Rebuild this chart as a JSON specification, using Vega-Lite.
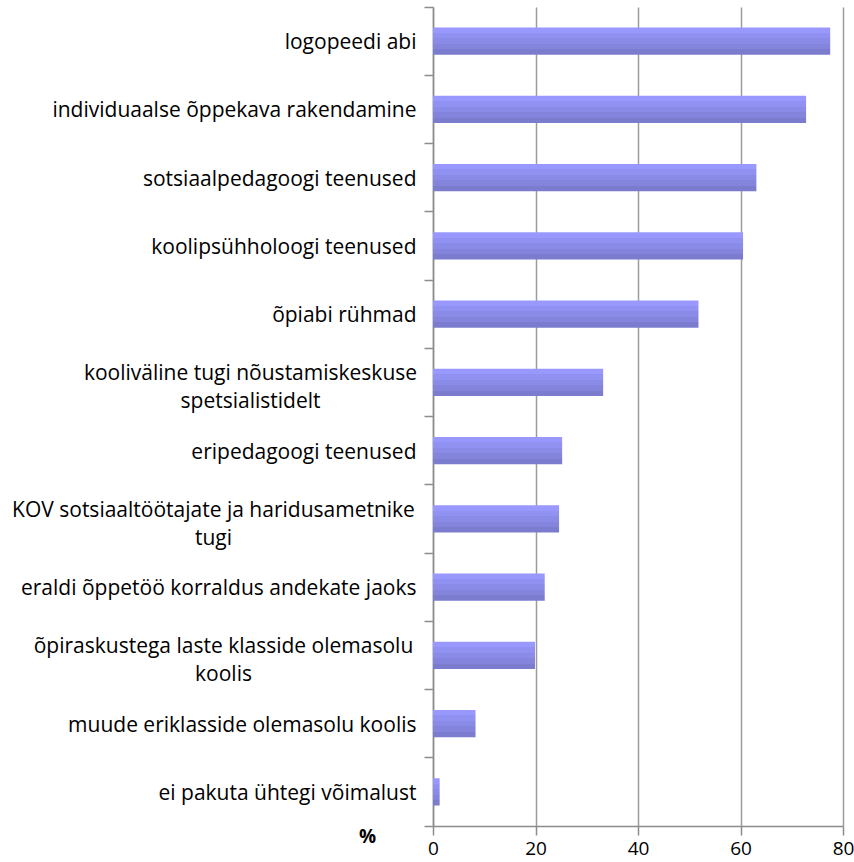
{
  "$schema": "https://vega.github.io/schema/vega-lite/v6.json",
  "autosize": "none",
  "width": 410,
  "height": 819,
  "padding": {"left": 433, "top": 7, "right": 11, "bottom": 36},
  "background": "white",
  "config": {"view": {"stroke": null}, "font": "Open Sans"},
  "data": {
    "values": [
      {"category": "logopeedi abi", "value": 77.5},
      {"category": "individuaalse õppekava rakendamine", "value": 72.8},
      {"category": "sotsiaalpedagoogi teenused", "value": 63.1},
      {"category": "koolipsühholoogi teenused", "value": 60.5},
      {"category": "õpiabi rühmad", "value": 51.8},
      {"category": "kooliväline tugi nõustamiskeskuse spetsialistidelt", "value": 33.2},
      {"category": "eripedagoogi teenused", "value": 25.2},
      {"category": "KOV sotsiaaltöötajate ja haridusametnike tugi", "value": 24.6},
      {"category": "eraldi õppetöö korraldus andekate jaoks", "value": 21.8},
      {"category": "õpiraskustega laste klasside olemasolu koolis", "value": 19.9},
      {"category": "muude eriklasside olemasolu koolis", "value": 8.3},
      {"category": "ei pakuta ühtegi võimalust", "value": 1.3}
    ]
  },
  "mark": {
    "type": "bar",
    "height": {"band": 0.4},
    "color": {
      "gradient": "linear",
      "x1": 0, "y1": 0, "x2": 0, "y2": 1,
      "stops": [
        {"offset": 0, "color": "#9898fe"},
        {"offset": 0.2, "color": "#9898fe"},
        {"offset": 0.2, "color": "#9191f2"},
        {"offset": 0.4, "color": "#9191f2"},
        {"offset": 0.4, "color": "#8a8ae7"},
        {"offset": 0.6, "color": "#8a8ae7"},
        {"offset": 0.6, "color": "#8484dc"},
        {"offset": 0.8, "color": "#8484dc"},
        {"offset": 0.8, "color": "#7c7ccf"},
        {"offset": 1, "color": "#7c7ccf"}
      ]
    }
  },
  "encoding": {
    "y": {
      "field": "category",
      "type": "nominal",
      "sort": null,
      "scale": {"paddingInner": 0, "paddingOuter": 0},
      "axis": {
        "title": null,
        "bandPosition": 1,
        "tickExtra": true,
        "domainColor": "#8c8c8c",
        "domainWidth": 1.5,
        "tickColor": "#8c8c8c",
        "tickWidth": 1.5,
        "tickSize": 9,
        "labelFont": "Open Sans",
        "labelFontSize": 21,
        "labelColor": "#000000",
        "labelLimit": 500,
        "labelLineHeight": 28,
        "labelAlign": {"expr": "indexof(['kooliväline tugi nõustamiskeskuse spetsialistidelt', 'KOV sotsiaaltöötajate ja haridusametnike tugi', 'õpiraskustega laste klasside olemasolu koolis'], datum.value) >= 0 ? 'center' : 'right'"},
        "labelPadding": {"expr": "datum.value == 'kooliväline tugi nõustamiskeskuse spetsialistidelt' ? 174 : datum.value == 'KOV sotsiaaltöötajate ja haridusametnike tugi' ? 211 : datum.value == 'õpiraskustega laste klasside olemasolu koolis' ? 201 : 8"},
        "labelOffset": {"expr": "indexof(['kooliväline tugi nõustamiskeskuse spetsialistidelt', 'KOV sotsiaaltöötajate ja haridusametnike tugi', 'õpiraskustega laste klasside olemasolu koolis'], datum.value) >= 0 ? -8 : 2"},
        "labelExpr": "datum.label == 'kooliväline tugi nõustamiskeskuse spetsialistidelt' ? ['kooliväline tugi nõustamiskeskuse', 'spetsialistidelt'] : datum.label == 'KOV sotsiaaltöötajate ja haridusametnike tugi' ? ['KOV sotsiaaltöötajate ja haridusametnike', 'tugi'] : datum.label == 'õpiraskustega laste klasside olemasolu koolis' ? ['õpiraskustega laste klasside olemasolu', 'koolis'] : datum.label"
      }
    },
    "x": {
      "field": "value",
      "type": "quantitative",
      "scale": {"domain": [0, 80], "nice": false},
      "axis": {
        "values": [0, 20, 40, 60, 80],
        "grid": true,
        "gridColor": "#9c9c9c",
        "gridWidth": 1.5,
        "domainColor": "#8c8c8c",
        "domainWidth": 1.5,
        "tickColor": "#8c8c8c",
        "tickWidth": 1.5,
        "tickSize": 9,
        "labelPadding": 4,
        "labelFont": "Open Sans",
        "labelFontSize": 19,
        "labelColor": "#000000",
        "labelFlush": false,
        "title": "%",
        "titleFont": "Open Sans",
        "titleFontSize": 19,
        "titleFontWeight": "bold",
        "titleColor": "#000000",
        "titleAlign": "center",
        "titleBaseline": "middle",
        "titleX": -66,
        "titleY": 10
      }
    }
  }
}
